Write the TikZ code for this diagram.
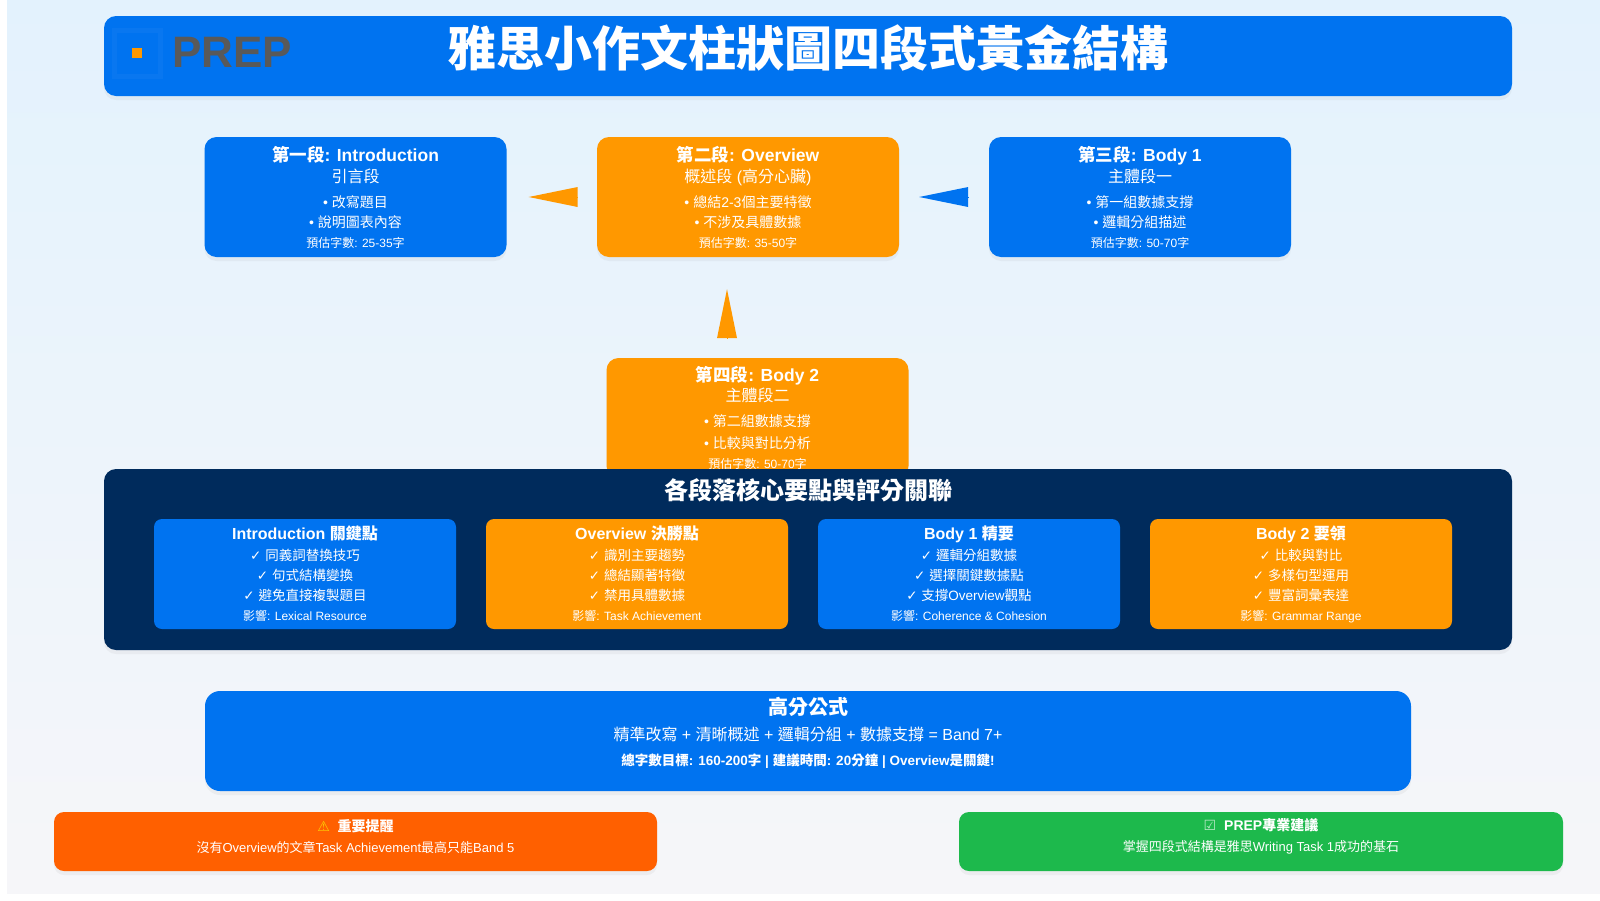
\documentclass[tikz,border=0pt]{standalone}
\usepackage{fontspec}
\setmainfont{Liberation Sans}
\newfontfamily\cjkfont{Noto Sans CJK TC}
\newfontfamily\symfont{DejaVu Sans}
\usetikzlibrary{arrows.meta,shadows}
\definecolor{prepblue}{HTML}{0073F0}
\definecolor{preporange}{HTML}{FF9800}
\definecolor{prepnavy}{HTML}{002B5C}
\definecolor{prepred}{HTML}{FF6000}
\definecolor{prepgreen}{HTML}{1DB94C}
\definecolor{bgstart}{HTML}{E3F2FD}
\definecolor{bgend}{HTML}{F6F6F9}
\newcommand{\zh}[1]{{\cjkfont #1}}
\newcommand{\fs}[2]{\fontsize{#1}{#2}\selectfont\lineskiplimit=-100pt\relax}
\newcommand{\ck}{{\symfont ✓}}
\newcommand{\hdline}[1]{{\fs{17.5}{20}\bfseries #1}}
\newcommand{\subline}[1]{{\fs{16}{20}#1}}
\newcommand{\itemline}[1]{{\fs{14}{20}• #1}}
\newcommand{\keyhead}[1]{{\fs{16}{20}\bfseries #1}}
\newcommand{\keyline}[1]{{\fs{13.5}{20}\ck{} #1}}
\newcommand{\smline}[1]{{\fs{12}{20}#1}}
\tikzset{
  softshadow/.style={drop shadow={opacity=0.08,shadow xshift=0pt,shadow yshift=-4pt}},
  card/.style={rectangle,rounded corners=12pt,minimum width=302pt,minimum height=120pt,inner sep=0pt,text=white,align=center,font=\fs{12}{20},softshadow},
  subcard/.style={rectangle,rounded corners=8pt,minimum width=302pt,minimum height=110pt,inner sep=0pt,text=white,align=center,font=\fs{12}{20}},
  band/.style={rectangle,rounded corners=12pt,inner sep=0pt,softshadow},
  txt/.style={inner sep=0pt,text=white,align=center,font=\fs{12}{20}},
  tip/.style={line width=0pt,-{Triangle[length=49pt,width=20pt]}}
}
\begin{document}
\begin{tikzpicture}[x=1pt,y=-1pt]
\useasboundingbox (0,0) rectangle (1600,900);
\shade [shading angle=45,top color=bgstart,bottom color=bgend] (7,0) rectangle (1600,893);
% heading
\node [band,fill=prepblue,minimum width=1408pt,minimum height=80pt] (head) at (808,56) {};
\node [rectangle,draw=white,draw opacity=0.035,line width=5pt,minimum width=46pt,minimum height=46pt] (logo) at (137,53) {};
\node [rectangle,fill=preporange,minimum width=10pt,minimum height=10pt,inner sep=0pt] (logodot) at (137,53) {};
\node [inner sep=0pt,text=black!65,font=\bfseries\fs{44}{44}] (logotxt) at (232,52) {PREP};
\node [txt,font=\bfseries\fs{48}{50}] (headtxt) at (808,48) {\zh{雅思小作文柱狀圖四段式黃金結構}};
% four paragraphs
\node [card,fill=prepblue] (intro) at (355.5,197) {\hdline{\zh{第一段}: Introduction}\\[1pt]\subline{\zh{引言段}}\\[5pt]\itemline{\zh{改寫題目}}\\\itemline{\zh{說明圖表內容}}\\\smline{\zh{預估字數}: 25-35\zh{字}}};
\node [card,fill=preporange] (ovr) at (748,197) {\hdline{\zh{第二段}: Overview}\\[1pt]\subline{\zh{概述段} (\zh{高分心臟})}\\[5pt]\itemline{\zh{總結}2-3\zh{個主要特徵}}\\\itemline{\zh{不涉及具體數據}}\\\smline{\zh{預估字數}: 35-50\zh{字}}};
\node [card,fill=prepblue] (bodya) at (1140,197) {\hdline{\zh{第三段}: Body 1}\\[1pt]\subline{\zh{主體段一}}\\[5pt]\itemline{\zh{第一組數據支撐}}\\\itemline{\zh{邏輯分組描述}}\\\smline{\zh{預估字數}: 50-70\zh{字}}};
\node [card,fill=preporange] (bodyb) at (757.5,418) {\hdline{\zh{第四段}: Body 2}\\\subline{\zh{主體段二}}\\[5pt]\itemline{\zh{第二組數據支撐}}\\[2pt]\itemline{\zh{比較與對比分析}}\\\smline{\zh{預估字數}: 50-70\zh{字}}};
\draw [tip,preporange,shorten >=22pt,shorten <=20pt] (ovr) -- (intro);
\draw [tip,prepblue,shorten >=20pt,shorten <=20pt] (bodya) -- (ovr);
\coordinate (upfoot) at (727,358);
\draw [tip,preporange,shorten >=32pt,shorten <=20pt] (upfoot) -- (upfoot |- ovr.south);
% key points panel
\node [band,fill=prepnavy,minimum width=1408pt,minimum height=181pt] (panel) at (808,559.5) {};
\node [txt,font=\bfseries\fs{24}{26}] (paneltxt) at (808,490) {\zh{各段落核心要點與評分關聯}};
\node [subcard,fill=prepblue] (keya) at (305,574) {\keyhead{Introduction \zh{關鍵點}}\\[1pt]\keyline{\zh{同義詞替換技巧}}\\\keyline{\zh{句式結構變換}}\\\keyline{\zh{避免直接複製題目}}\\\smline{\zh{影響}: Lexical Resource}};
\node [subcard,fill=preporange] (keyb) at (637,574) {\keyhead{Overview \zh{決勝點}}\\[1pt]\keyline{\zh{識別主要趨勢}}\\\keyline{\zh{總結顯著特徵}}\\\keyline{\zh{禁用具體數據}}\\\smline{\zh{影響}: Task Achievement}};
\node [subcard,fill=prepblue] (keyc) at (969,574) {\keyhead{Body 1 \zh{精要}}\\[1pt]\keyline{\zh{邏輯分組數據}}\\\keyline{\zh{選擇關鍵數據點}}\\\keyline{\zh{支撐}Overview\zh{觀點}}\\\smline{\zh{影響}: Coherence \& Cohesion}};
\node [subcard,fill=preporange] (keyd) at (1301,574) {\keyhead{Body 2 \zh{要領}}\\[1pt]\keyline{\zh{比較與對比}}\\\keyline{\zh{多樣句型運用}}\\\keyline{\zh{豐富詞彙表達}}\\\smline{\zh{影響}: Grammar Range}};
% formula
\node [band,fill=prepblue,minimum width=1206pt,minimum height=100pt,rounded corners=15pt] (formula) at (808,741) {};
\node [txt] (formulatxt) at (808,733) {{\fs{20}{20}\bfseries\zh{高分公式}}\\[6pt]{\fs{16}{20}\zh{精準改寫} + \zh{清晰概述} + \zh{邏輯分組} + \zh{數據支撐} = Band 7+}\\[5pt]{\fs{13.5}{20}\bfseries\zh{總字數目標}: 160-200\zh{字} | \zh{建議時間}: 20\zh{分鐘} | Overview\zh{是關鍵}!}};
% notes
\node [band,fill=prepred,minimum width=603pt,minimum height=59pt,rounded corners=10pt] (warn) at (355.5,841.5) {};
\node [txt] (warntxt) at (355.5,836.5) {{\fs{14}{20}{\symfont\textcolor{yellow!70!orange}{⚠}}\hspace{4pt} \bfseries\zh{重要提醒}}\\[1pt]{\fs{13}{20}\zh{沒有}Overview\zh{的文章}Task Achievement\zh{最高只能}Band 5}};
\node [band,fill=prepgreen,minimum width=604pt,minimum height=59pt,rounded corners=10pt] (tipbox) at (1261,841.5) {};
\node [txt] (tiptxt) at (1261,836.5) {{\fs{14}{20}{\symfont\textcolor{white!70!prepgreen}{☑}}\hspace{4pt} \bfseries PREP\zh{專業建議}}\\[1pt]{\fs{13}{20}\zh{掌握四段式結構是雅思}Writing Task 1\zh{成功的基石}}};
\end{tikzpicture}
\end{document}
